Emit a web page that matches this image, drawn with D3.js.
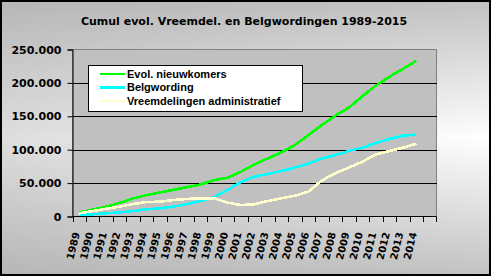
<!DOCTYPE html>
<html>
<head>
<meta charset="utf-8">
<script src="https://cdn.jsdelivr.net/npm/d3@7"></script>
<style>
  body { margin: 0; padding: 0; background: #ffffff; }
  svg { display: block; }
</style>
</head>
<body>
<div id="chart"></div>
<script>
// data
const years = [1989, 1990, 1991, 1992, 1993, 1994, 1995, 1996, 1997, 1998, 1999, 2000, 2001,
               2002, 2003, 2004, 2005, 2006, 2007, 2008, 2009, 2010, 2011, 2012, 2013, 2014];
const slots = years.concat([2015]);   // category axis has one empty slot at the end

const nieuwkomers = [6000, 10500, 14700, 20500, 27000, 32000, 36000, 40000, 44000, 48000, 54500, 58000, 67000,
                     78000, 87000, 96000, 107000, 122000, 137000, 151000, 163000, 180000, 196000, 209000, 221000, 233000];
const belgwording = [2500, 3300, 4800, 6300, 8200, 10800, 12300, 14700, 18700, 23200, 28800, 39700, 52000,
                     59700, 63700, 68200, 73200, 79000, 87000, 92000, 98000, 103000, 110000, 116000, 121000, 122500];
const administratief = [4800, 8200, 11700, 14700, 18700, 21700, 22200, 24700, 26200, 27300, 27300, 20700, 17200,
                        18300, 23200, 27300, 31200, 37200, 54000, 64800, 73200, 82000, 93000, 98000, 103000, 109000];

const yTicks = [0, 50000, 100000, 150000, 200000, 250000];
const seriesNames = ["Evol. nieuwkomers", "Belgwording", "Vreemdelingen administratief"];
const seriesColors = ["#00ff00", "#00ffff", "#ffffcc"];
const seriesValues = [nieuwkomers, belgwording, administratief];

const W = 491, H = 276;
const plot = {left: 72.5, right: 436.5, top: 49.5, bottom: 216.5};

const svg = d3.select("#chart")
    .append("svg")
    .attr("width", W)
    .attr("height", H);

const defs = svg.append("defs");

// outer background: grey at top/bottom, white in the middle
const vg = defs.append("linearGradient")
    .attr("id", "vgrad")
    .attr("x1", 0).attr("y1", 0).attr("x2", 0).attr("y2", 1);
vg.append("stop").attr("offset", "0%").attr("stop-color", "#c2c2c2");
vg.append("stop").attr("offset", "50%").attr("stop-color", "#ffffff");
vg.append("stop").attr("offset", "100%").attr("stop-color", "#c2c2c2");

// darker toward the left side
const hg = defs.append("linearGradient")
    .attr("id", "hgrad")
    .attr("x1", 0).attr("y1", 0).attr("x2", 1).attr("y2", 0);
hg.append("stop").attr("offset", "0%").attr("stop-color", "#a0a0a0").attr("stop-opacity", 0.35);
hg.append("stop").attr("offset", "100%").attr("stop-color", "#a0a0a0").attr("stop-opacity", 0);

svg.append("rect")
    .attr("x", 0).attr("y", 0)
    .attr("width", W).attr("height", H)
    .attr("fill", "url(#vgrad)");
svg.append("rect")
    .attr("x", 0).attr("y", 0)
    .attr("width", W).attr("height", H)
    .attr("fill", "url(#hgrad)");
svg.append("rect")
    .attr("x", 1).attr("y", 1)
    .attr("width", W - 2).attr("height", H - 2)
    .attr("fill", "none")
    .attr("stroke", "#000")
    .attr("stroke-width", 2);

// title
svg.append("text")
    .attr("x", 244)
    .attr("y", 25)
    .attr("text-anchor", "middle")
    .style("font-family", "DejaVu Sans")
    .style("font-weight", "bold")
    .style("font-size", "11px")
    .attr("fill", "#000")
    .text("Cumul evol. Vreemdel. en Belgwordingen 1989-2015");

// scales
const x = d3.scaleBand()
    .domain(slots)
    .range([plot.left, plot.right]);

const y = d3.scaleLinear()
    .domain([0, 250000])
    .range([plot.bottom, plot.top]);

// plot area
svg.append("rect")
    .attr("x", plot.left).attr("y", plot.top)
    .attr("width", plot.right - plot.left)
    .attr("height", plot.bottom - plot.top)
    .attr("fill", "#c0c0c0")
    .attr("stroke", "#808080")
    .attr("stroke-width", 1);

// gridlines
svg.append("g")
    .selectAll("line")
    .data(yTicks.filter(d => d > 0 && d < 250000))
    .join("line")
    .attr("x1", plot.left).attr("x2", plot.right)
    .attr("y1", d => Math.round(y(d)) + 0.5)
    .attr("y2", d => Math.round(y(d)) + 0.5)
    .attr("stroke", "#000")
    .attr("stroke-width", 1)
    .attr("shape-rendering", "crispEdges");

// y axis
const yAxis = svg.append("g")
    .attr("transform", `translate(${plot.left},0)`)
    .call(d3.axisLeft(y)
        .tickValues(yTicks)
        .tickSize(5)
        .tickPadding(6)
        .tickFormat(d => d === 0 ? "0" : d3.format(",")(d).replace(/,/g, ".")));
yAxis.select(".domain").attr("stroke", "#000");
yAxis.selectAll("line").attr("stroke", "#000");
yAxis.selectAll("text")
    .style("font-family", "DejaVu Sans")
    .style("font-weight", "bold")
    .style("font-size", "11px")
    .attr("fill", "#000");

// x axis: ticks on band edges
const xAxis = svg.append("g")
    .attr("transform", `translate(0,${plot.bottom})`);
xAxis.append("line")
    .attr("x1", plot.left).attr("x2", plot.right)
    .attr("y1", 0).attr("y2", 0)
    .attr("stroke", "#000");
xAxis.selectAll("line.tick")
    .data(slots.concat(["end"]))
    .join("line")
    .attr("class", "tick")
    .attr("x1", d => d === "end" ? plot.right : Math.round(x(d)) + 0.5)
    .attr("x2", d => d === "end" ? plot.right : Math.round(x(d)) + 0.5)
    .attr("y1", 0).attr("y2", 5)
    .attr("stroke", "#000")
    .attr("shape-rendering", "crispEdges");
xAxis.selectAll("text")
    .data(years)
    .join("text")
    .attr("transform", d => `translate(${x(d) + 4},16) rotate(-76)`)
    .attr("text-anchor", "end")
    .attr("dy", "0.35em")
    .style("font-family", "DejaVu Sans")
    .style("font-weight", "bold")
    .style("font-size", "10px")
    .attr("fill", "#000")
    .text(d => d);

// the lines
const line = d3.line()
    .x((d, i) => x(years[i]) + x.bandwidth() / 2)
    .y(d => y(d));

svg.append("g")
    .selectAll("path")
    .data(seriesValues)
    .join("path")
    .attr("d", d => line(d))
    .attr("fill", "none")
    .attr("stroke", (d, i) => seriesColors[i])
    .attr("stroke-width", 2.6)
    .attr("shape-rendering", "crispEdges");

// legend
const legend = svg.append("g");
legend.append("rect")
    .attr("x", 88.5).attr("y", 65.5)
    .attr("width", 214).attr("height", 46)
    .attr("fill", "#fff")
    .attr("stroke", "#000");
const rows = legend.selectAll("g")
    .data(seriesNames)
    .join("g")
    .attr("transform", (d, i) => `translate(0,${74 + i * 13.5})`);
rows.append("line")
    .attr("x1", 100).attr("x2", 125)
    .attr("y1", 0).attr("y2", 0)
    .attr("stroke", (d, i) => seriesColors[i])
    .attr("stroke-width", 2.6)
    .attr("shape-rendering", "crispEdges");
rows.append("text")
    .attr("x", 127)
    .attr("y", 0)
    .attr("dy", "0.36em")
    .style("font-family", "Liberation Sans")
    .style("font-weight", "bold")
    .style("font-size", "11px")
    .attr("fill", "#000")
    .text(d => d);
</script>
</body>
</html>
